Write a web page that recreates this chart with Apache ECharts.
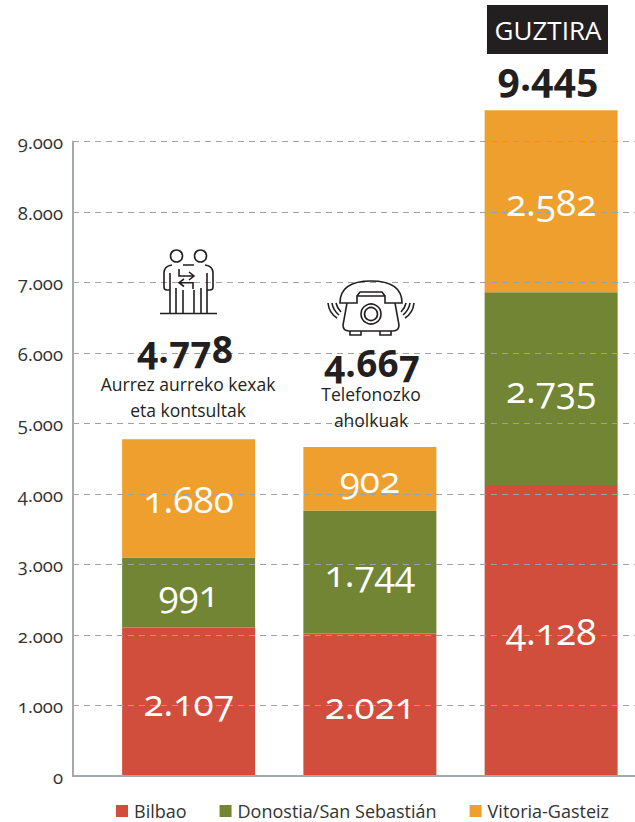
<!DOCTYPE html>
<html><head><meta charset="utf-8">
<style>
html,body{margin:0;padding:0;background:#fff}
#c{width:635px;height:822px}
svg text{font-feature-settings:"onum" 1,"lnum" 0;font-variant-numeric:oldstyle-nums}
</style>
<script src="https://cdn.jsdelivr.net/npm/echarts@6/dist/echarts.min.js"></script>
</head><body><div id="c"></div>
<script>
const categories = ['Aurrez aurreko kexak eta kontsultak','Telefonozko aholkuak','Guztira'];
const bilbao = [2107,2021,4128];
const donostia = [991,1744,2735];
const vitoria = [1680,902,2582];
const totals = ['4.778','4.667','9.445'];
const FONT = '"Open Sans"';
const INK = '#231f20';
const fmt = v => v>=1000 ? Math.floor(v/1000)+'.'+String(v%1000).padStart(3,'0') : String(v);
const mk = (name,data,color) => ({
  name,type:'bar',stack:'t',data,xAxisIndex:1,yAxisIndex:1,barWidth:133,barGap:'-100%',z:2,
  itemStyle:{color}
});
// same values again, unpainted, stacked above the dashed lines so the numbers sit on top of them
const lab = (name,data) => ({
  name,type:'bar',stack:'labels',data,xAxisIndex:1,yAxisIndex:1,barWidth:133,barGap:'-100%',z:7,silent:true,
  itemStyle:{color:'rgba(0,0,0,0)'},
  label:{show:true,position:'inside',color:'#fff',fontFamily:FONT,fontSize:37,formatter:p=>fmt(p.value)}
});
let shapeN = 0;
const line = (d,w)=>{
  const name='iconPath'+(shapeN++);
  echarts.graphic.registerShape(name,echarts.graphic.extendPath(d,{}));
  return {type:name,style:{fill:'none',stroke:INK,lineWidth:w||1.6},z:20};
};
const txt = (x,y,text,size,weight,fill)=>({type:'text',x,y,z:20,style:{text,fontFamily:FONT,fontSize:size,lineHeight:size,fontWeight:weight||400,fill:fill||INK,align:'center',verticalAlign:'middle'}});
const chart = echarts.init(document.getElementById('c'),null,{renderer:'svg',width:635,height:822});
chart.setOption({
  animation:false,backgroundColor:'#fff',
  grid:[
    {left:73,right:0,top:141.5,height:634.5,outerBoundsMode:'none'},
    {left:98,width:543.75,top:71,height:705,outerBoundsMode:'none'}
  ],
  xAxis:[
    {gridIndex:0,type:'category',data:[''],axisTick:{show:false},axisLabel:{show:false},axisLine:{lineStyle:{color:'#a4a9b0',width:2}},z:5},
    {gridIndex:1,type:'category',data:categories,show:false}
  ],
  yAxis:[
    {gridIndex:0,type:'value',min:0,max:9000,interval:1000,z:5,
     axisLine:{show:true,lineStyle:{color:'#a4a9b0',width:2}},axisTick:{show:false},
     axisLabel:{color:'#333',fontFamily:FONT,fontSize:18.5,fontWeight:500,margin:10,formatter:v=>fmt(v)},
     splitLine:{show:true,lineStyle:{color:'#a0a0a0',type:[6,5],width:1.2}}},
    {gridIndex:1,type:'value',min:0,max:10000,show:false,splitLine:{show:false}}
  ],
  legend:{left:111,top:797,padding:[5,5,0,5],itemWidth:12,itemHeight:12,itemGap:33,icon:'rect',
    textStyle:{color:'#333',fontFamily:FONT,fontSize:18,lineHeight:16,padding:[0,0,0,1]},
    data:['Bilbao','Donostia/San Sebastián','Vitoria-Gasteiz']},
  series:[
    mk('Bilbao',bilbao,'#d04e3b'),mk('Donostia/San Sebastián',donostia,'#718535'),mk('Vitoria-Gasteiz',vitoria,'#ee9f2e'),
    lab('Bilbao',bilbao),lab('Donostia/San Sebastián',donostia),lab('Vitoria-Gasteiz',vitoria)
  ],
  graphic:[
    {type:'rect',shape:{x:487,y:5,width:121,height:49},style:{fill:INK},z:19},
    txt(548,30,'GUZTIRA',26,400,'#fff'),
    txt(548,75,totals[2],39,700),
    txt(185,348,totals[0],37,700),
    txt(372,362,totals[1],37,700),
    txt(188,384,'Aurrez aurreko kexak',17.5),
    txt(188,410,'eta kontsultak',17.5),
    txt(371,394,'Telefonozko',17.5),
    txt(371,420,'aholkuak',17.5),
    {type:'circle',shape:{cx:176.5,cy:256,r:6},style:{fill:'none',stroke:INK,lineWidth:1.6},z:20},
    {type:'circle',shape:{cx:200.5,cy:256,r:6},style:{fill:'none',stroke:INK,lineWidth:1.6},z:20},
    line('M172,265 Q164,266 164,273 L164,287 Q164,290 167,290 L170,290 M205,265 Q213,266 213,273 L213,287 Q213,290 210,290 L207,290'),
    line('M170,273 V313 M176,288 V313 M183,290 V313 M194,290 V313 M201,288 V313 M207,273 V313 M160,313.5 H217 M183,265 H194'),
    line('M179,269 V276 H194 M189,272 L194,276 L189,280 M193,289 V282.7 H179 M184,279 L179,282.7 L184,286.5'),
    line('M340,303 C340,288 350,281 371,281 C392,281 402,288 402,303 H385 V296 H357 V303 Z M357,296 L360,292 H382 L385,296'),
    line('M347,303 L343,325 Q343,331 349,331 H393 Q399,331 399,325 L395,303 M350,331 V335 H361 V331 M380,331 V335 H391 V331'),
    {type:'circle',shape:{cx:371,cy:314,r:10},style:{fill:'none',stroke:INK,lineWidth:1.6},z:20},
    {type:'circle',shape:{cx:371,cy:314,r:6.5},style:{fill:'none',stroke:INK,lineWidth:1.6},z:20},
    line('M328,303 Q329,313 337,318 M332,303 Q333,310 339,315 M336,303 Q337,308 341,312 M414,303 Q413,313 405,318 M410,303 Q409,310 403,315 M406,303 Q405,308 401,312')
  ]
});
</script></body></html>
